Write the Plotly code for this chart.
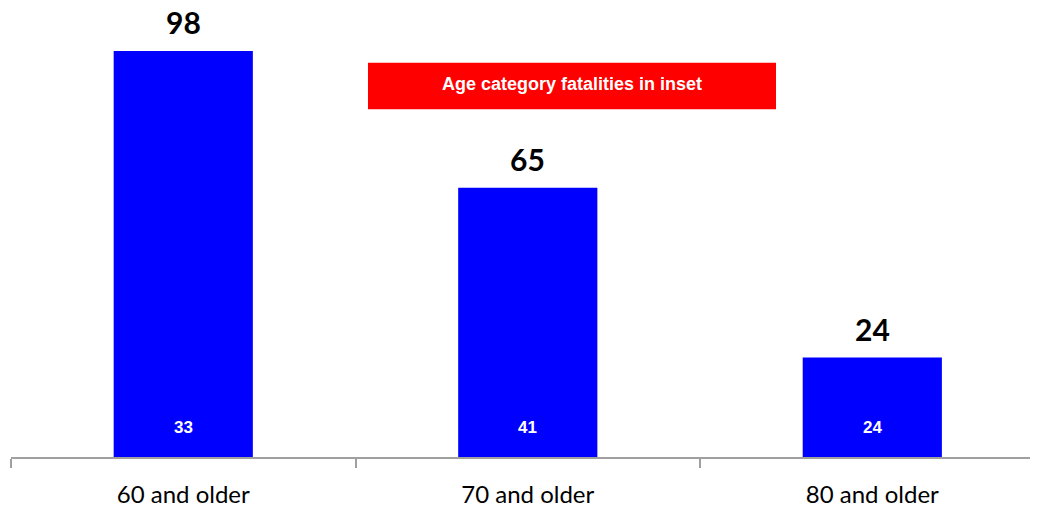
import plotly.graph_objects as go

categories = ["60 and older", "70 and older", "80 and older"]
totals = [98, 65, 24]
inset = [33, 41, 24]
inset_title = "Age category fatalities in inset"

fig = go.Figure()
fig.add_trace(go.Bar(
    x=categories, y=totals,
    marker=dict(color="#0000FF", line=dict(width=0)),
    width=0.404,
    hoverinfo="skip",
))

for c, t, i in zip(categories, totals, inset):
    fig.add_annotation(x=c, y=t, yref="y", text=f"<b>{t}</b>", showarrow=False,
                       yanchor="middle", yshift=29,
                       font=dict(family="Lato, Carlito, sans-serif", size=30, color="black"))
    fig.add_annotation(x=c, y=7.2, yref="y", text=f"<b>{i}</b>", showarrow=False,
                       xanchor="center", yanchor="middle",
                       font=dict(family="Liberation Sans, Arial, sans-serif", size=17, color="white"))

# plot area spans y pixels 8..460 (452 px); paper coords relative to that
fig.add_shape(type="rect", xref="paper", yref="paper",
              x0=0.3476, x1=0.7449, y0=(460 - 110) / 452, y1=(460 - 63) / 452,
              fillcolor="#FF0000", line=dict(width=0), layer="above")
fig.add_annotation(xref="paper", yref="paper", x=0.5463, y=(460 - 85) / 452,
                   xanchor="center", yanchor="middle",
                   text=f"<b>{inset_title}</b>", showarrow=False,
                   font=dict(family="Liberation Sans, Arial, sans-serif", size=18, color="white"))

fig.update_layout(
    width=1030, height=500,
    margin=dict(l=3, r=0, t=0, b=48),
    plot_bgcolor="white", paper_bgcolor="white",
    showlegend=False,
    xaxis=dict(
        range=[-0.5, 2.481],
        showline=True, linecolor="#A0A0A0", linewidth=2,
        ticks="outside", tickson="boundaries", ticklen=9, tickcolor="#A0A0A0", tickwidth=2,
        tickfont=dict(family="Lato, Carlito, sans-serif", size=24, color="black"),
        ticklabelstandoff=15,
        showgrid=False, zeroline=False,
    ),
    yaxis=dict(range=[0, 452 / 4.17], visible=False, showgrid=False, zeroline=False),
)

fig.write_html("out.html")
